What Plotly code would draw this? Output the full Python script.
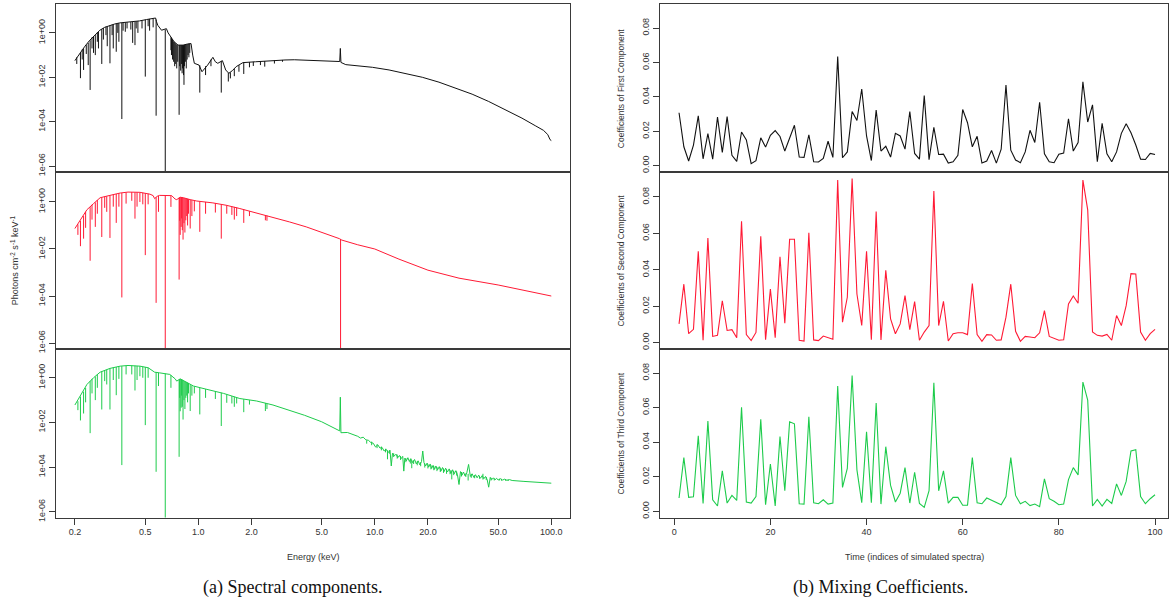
import numpy as np
import plotly.graph_objects as go

# ---------------- Spectral components (log10 of photons cm^-2 s^-1 keV^-1) ----------------
black_E = [0.200, 0.213, 0.228, 0.243, 0.260, 0.277, 0.295, 0.315, 0.336, 0.359, 0.383, 0.408, 0.436,
           0.465, 0.508, 0.545, 0.573, 0.580, 0.590, 0.619, 0.640, 0.660, 0.675, 0.700, 0.730, 0.768,
           0.820, 0.870, 0.910, 0.930, 0.950, 1.010, 1.050, 1.130, 1.210, 1.250, 1.290, 1.370, 1.430,
           1.490, 1.560, 1.640, 1.790, 2.110, 2.520, 3.100, 3.500, 4.500, 6.150, 6.330, 6.380, 6.430,
           6.850, 7.820, 9.700, 12.05, 15.00, 18.60, 23.10, 28.60, 35.60, 44.20, 54.80, 68.20, 81.10,
           90.30, 95.50, 98.40, 100.0]
black_log = [-1.25, -0.93, -0.60, -0.33, -0.10, 0.12, 0.25, 0.34, 0.40, 0.45, 0.47, 0.49, 0.51,
             0.54, 0.60, 0.64, 0.67, 0.50, 0.34, 0.12, 0.15, 0.19, 0.00, -0.20, -0.40, -0.55,
             -0.55, -0.50, -0.48, -1.00, -1.37, -1.45, -1.75, -1.45, -1.10, -1.30, -1.37, -1.25, -1.67,
             -1.82, -1.70, -1.52, -1.34, -1.30, -1.25, -1.22, -1.21, -1.24, -1.28, -1.29, -0.70, -1.33,
             -1.43, -1.48, -1.55, -1.67, -1.82, -2.00, -2.22, -2.48, -2.76, -3.09, -3.46, -3.84, -4.18,
             -4.39, -4.58, -4.81, -4.85]
black_line_E = [0.205, 0.215, 0.220, 0.224, 0.232, 0.238, 0.244, 0.250, 0.255, 0.261, 0.268, 0.272,
                0.284, 0.290, 0.300, 0.305, 0.316, 0.325, 0.330, 0.343, 0.350, 0.355, 0.369, 0.375,
                0.386, 0.395, 0.415, 0.425, 0.438, 0.445, 0.455, 0.480, 0.501, 0.520, 0.530, 0.555,
                0.577, 0.650, 0.700, 0.705, 0.715, 0.725, 0.735, 0.745, 0.755, 0.765, 0.779, 0.785,
                0.795, 0.805, 0.810, 0.815, 0.825, 0.830, 0.835, 0.845, 0.855, 0.865, 0.875, 0.885,
                0.895, 1.02, 1.10, 1.18, 1.35, 1.48, 1.52, 1.60, 1.70, 1.81, 1.95, 2.05, 2.25, 2.38,
                2.70, 3.00]
black_line_hi = [-1.10, -0.88, -0.75, -0.70, -0.55, -0.45, -0.33, -0.20, -0.15, -0.10, 0.02, 0.05,
                 0.17, 0.22, 0.28, 0.29, 0.34, 0.37, 0.38, 0.41, 0.43, 0.44, 0.45, 0.46,
                 0.47, 0.48, 0.49, 0.50, 0.51, 0.52, 0.53, 0.56, 0.59, 0.62, 0.63, 0.65,
                 0.60, 0.15, -0.20, -0.22, -0.30, -0.38, -0.42, -0.47, -0.52, -0.55, -0.55, -0.55,
                 -0.55, -0.55, -0.55, -0.55, -0.55, -0.55, -0.54, -0.53, -0.52, -0.51, -0.50, -0.49,
                 -0.49, -1.46, -1.50, -1.20, -1.27, -1.80, -1.78, -1.62, -1.45, -1.34, -1.32, -1.30,
                 -1.28, -1.27, -1.24, -1.22]
black_line_lo = [-1.40, -2.04, -1.20, -1.67, -0.95, -1.45, -2.57, -0.70, -0.90, -1.00, -0.40, -0.70,
                 -1.40, -0.30, -0.10, -0.60, -1.37, -0.10, -0.70, -0.85, 0.00, -0.40, -3.88, 0.10,
                 0.05, 0.20, 0.15, -0.45, -0.55, 0.20, 0.00, 0.20, -1.97, 0.30, 0.10, 0.25,
                 -3.73, -9.00, -0.78, -1.00, -1.20, -1.30, -1.50, -1.40, -1.60, -1.30, -3.69, -1.50,
                 -1.70, -1.40, -1.82, -1.60, -1.90, -2.34, -1.50, -1.30, -1.60, -1.20, -1.00, -1.10,
                 -0.90, -2.69, -1.90, -1.50, -2.69, -2.19, -2.05, -1.95, -1.75, -1.85, -1.55, -1.49,
                 -1.45, -1.52, -1.38, -1.30]

red_E = [0.200, 0.215, 0.234, 0.255, 0.278, 0.316, 0.361, 0.400, 0.467, 0.533, 0.555, 0.566, 0.585,
         0.604, 0.707, 0.740, 0.755, 0.790, 0.823, 0.900, 0.980, 1.21, 1.44, 1.72, 2.13, 2.65, 3.29,
         4.09, 5.08, 6.30, 6.50, 8.00, 10.0, 13.7, 20.0, 30.0, 50.0, 75.0, 100.0]
red_log = [-1.13, -0.78, -0.33, -0.07, 0.18, 0.28, 0.38, 0.42, 0.41, 0.33, 0.27, 0.14, 0.24,
           0.28, 0.27, 0.12, 0.10, 0.20, 0.18, 0.10, 0.04, -0.04, -0.14, -0.28, -0.47, -0.64, -0.85,
           -1.06, -1.30, -1.56, -1.62, -1.82, -2.00, -2.43, -2.90, -3.24, -3.53, -3.79, -4.00]
red_line_E = [0.208, 0.215, 0.224, 0.230, 0.244, 0.250, 0.261, 0.268, 0.284, 0.295, 0.303, 0.316,
              0.330, 0.343, 0.355, 0.369, 0.390, 0.420, 0.438, 0.450, 0.467, 0.485, 0.501, 0.520,
              0.577, 0.595, 0.650, 0.700, 0.779, 0.785, 0.790, 0.800, 0.805, 0.812, 0.820, 0.830,
              0.840, 0.850, 0.860, 0.870, 0.880, 0.900, 0.920, 0.950, 1.02, 1.10, 1.25, 1.35, 1.45,
              1.55, 1.60, 1.65, 1.81, 1.95, 2.40, 2.45, 6.40]
red_line_hi = [-0.95, -0.80, -0.60, -0.42, -0.22, -0.12, -0.02, 0.08, 0.19, 0.23, 0.24, 0.27,
               0.31, 0.34, 0.37, 0.38, 0.40, 0.42, 0.41, 0.41, 0.40, 0.39, 0.37, 0.35,
               0.20, 0.26, 0.27, 0.26, 0.18, 0.19, 0.20, 0.19, 0.19, 0.19, 0.18, 0.17,
               0.16, 0.15, 0.14, 0.13, 0.12, 0.10, 0.08, 0.06, 0.02, 0.00, -0.05, -0.10, -0.14,
               -0.19, -0.21, -0.23, -0.31, -0.39, -0.56, -0.58, -1.58]
red_line_lo = [-1.40, -1.88, -1.56, -1.10, -2.50, -0.75, -1.06, -0.50, -1.49, -0.25, -0.42, -1.53,
               -0.20, -0.89, -0.20, -4.06, -0.07, 0.05, -0.71, -0.20, 0.00, -0.10, -2.26, -0.10,
               -4.29, -0.42, -9.00, -0.21, -3.30, -0.80, -1.40, -1.06, -0.70, -1.20, -1.60, -0.90,
               -1.30, -0.78, -0.60, -1.00, -0.50, -1.13, -0.60, -0.40, -1.27, -0.50, -0.45, -1.56, -0.50,
               -0.55, -0.75, -0.60, -0.89, -0.60, -0.78, -0.80, -9.00]

green_E = [0.200, 0.215, 0.234, 0.255, 0.278, 0.316, 0.361, 0.400, 0.467, 0.520, 0.555, 0.566, 0.604,
           0.690, 0.740, 0.755, 0.790, 0.823, 0.940, 1.12, 1.39, 1.72, 2.14, 2.65, 3.29, 4.00, 5.00,
           6.20, 6.33, 6.38, 6.43,
           7.0, 7.5, 8.0, 8.3, 8.6, 8.9, 9.2, 9.5, 9.8, 10.1, 10.4, 10.7, 11.0, 11.3, 11.6, 11.9,
           12.2, 12.4, 12.6, 12.9, 13.2, 13.5, 13.8, 14.1, 14.4, 14.6, 14.8, 15.1, 15.4, 15.7, 16.0,
           16.4, 16.8, 17.2, 17.6, 18.0, 18.4, 18.7, 19.0, 19.4, 19.8, 20.2, 20.6, 21.0, 21.4, 21.8,
           22.2, 22.7, 23.2, 23.7, 24.2, 24.7, 25.2, 25.8, 26.4, 27.0, 27.6, 28.2, 28.8, 29.4, 30.0,
           30.6, 31.2, 31.8, 32.5, 33.2, 34.0, 34.8, 35.6, 36.4, 37.2, 38.0, 38.8, 39.7, 40.6, 41.5,
           42.4, 43.3, 44.2, 45.1, 46.0, 47.0, 48.0, 49.0, 50.0, 51.5, 53.0, 54.5, 56.0, 58.0, 60.0,
           70.0, 80.0, 90.0, 100.0]
green_log = [-1.22, -0.82, -0.30, 0.00, 0.25, 0.42, 0.52, 0.55, 0.52, 0.45, 0.30, 0.25, 0.22,
             0.15, -0.05, -0.15, -0.05, -0.12, -0.37, -0.52, -0.70, -0.93, -1.04, -1.22, -1.45, -1.68, -1.97,
             -2.36, -2.38, -0.87, -2.46,
             -2.45, -2.52, -2.62, -2.70, -2.66, -2.78, -2.80, -2.90, -2.93, -3.10, -3.00, -3.15, -3.12,
             -3.28, -3.20, -3.35, -3.25, -3.95, -3.38, -3.50, -3.42, -3.58, -3.48, -3.62, -3.52, -4.18,
             -3.60, -3.72, -3.58, -3.75, -3.62, -3.80, -3.66, -3.86, -3.72, -3.90, -3.75, -3.28, -3.80,
             -3.95, -3.82, -4.00, -3.86, -4.06, -3.92, -4.10, -3.95, -4.12, -3.98, -4.18, -4.02, -4.20,
             -4.05, -4.22, -4.08, -4.28, -4.12, -4.30, -4.16, -4.34, -4.78, -4.20, -4.36, -4.22, -4.40,
             -4.26, -3.88, -4.42, -4.30, -4.46, -4.34, -4.48, -4.36, -4.50, -4.38, -4.52, -4.42, -4.55,
             -4.90, -4.46, -4.56, -4.48, -4.57, -4.50, -4.58, -4.52, -4.58, -4.54, -4.59, -4.56, -4.60,
             -4.64, -4.67, -4.70, -4.72]
green_line_E = [0.208, 0.215, 0.224, 0.230, 0.244, 0.250, 0.261, 0.268, 0.284, 0.295, 0.303, 0.316,
                0.330, 0.343, 0.355, 0.369, 0.390, 0.420, 0.438, 0.450, 0.467, 0.485, 0.501, 0.520,
                0.577, 0.595, 0.650, 0.700, 0.779, 0.785, 0.790, 0.800, 0.805, 0.812, 0.820, 0.830,
                0.840, 0.850, 0.860, 0.870, 0.880, 0.900, 0.920, 0.950, 1.02, 1.10, 1.25, 1.35, 1.45,
                1.55, 1.60, 1.65, 1.81, 1.95, 2.40, 2.45,
                9.0, 9.6, 10.3, 10.9, 11.5, 11.8, 12.1, 12.8, 13.4, 14.0, 15.0, 15.9, 16.2, 16.6, 17.4,
                18.2, 19.2, 20.0, 20.8, 21.6, 22.5, 23.5, 24.5, 25.5, 26.7, 27.3, 28.0, 29.1, 31.0, 32.8,
                33.8, 35.2, 36.8, 39.2, 41.0, 42.8, 45.6, 47.5, 50.8, 52.2, 55.2, 57.0]
green_line_hi = [-1.05, -0.84, -0.62, -0.45, -0.15, -0.05, 0.05, 0.15, 0.28, 0.33, 0.36, 0.42,
                 0.46, 0.48, 0.50, 0.52, 0.54, 0.55, 0.54, 0.53, 0.52, 0.50, 0.48, 0.45,
                 0.24, 0.22, 0.19, 0.12, -0.08, -0.06, -0.05, -0.07, -0.07, -0.09, -0.12, -0.14,
                 -0.16, -0.18, -0.20, -0.22, -0.24, -0.30, -0.34, -0.38, -0.45, -0.51, -0.60, -0.67, -0.75,
                 -0.82, -0.85, -0.88, -0.96, -1.00, -1.13, -1.16,
                 -2.80, -2.86, -2.98, -3.08, -3.18, -3.25, -3.24, -3.38, -3.44, -3.50, -3.60, -3.66, -3.70,
                 -3.70, -3.74, -3.78, -3.84, -3.88, -3.92, -3.96, -4.00, -4.02, -4.06, -4.10, -4.14, -4.15,
                 -4.18, -4.20, -4.22, -4.28, -4.30, -4.32, -4.36, -4.40, -4.30, -4.44, -4.48, -4.50, -4.52,
                 -4.53, -4.55, -4.56]
green_line_lo = [-1.45, -1.91, -1.60, -1.10, -2.48, -0.70, -1.00, -0.45, -1.42, -0.15, -0.30, -1.42,
                 -0.10, -0.78, -0.05, -3.91, 0.15, 0.15, -0.57, -0.10, 0.07, 0.00, -2.12, 0.00,
                 -4.21, -0.37, -9.00, -0.45, -3.54, -0.90, -1.50, -1.34, -0.80, -1.30, -1.87, -1.00,
                 -1.40, -0.90, -0.80, -1.10, -0.70, -1.49, -0.80, -0.70, -1.64, -0.90, -0.95, -2.16, -1.12,
                 -1.15, -1.30, -1.15, -1.54, -1.20, -1.49, -1.40,
                 -2.95, -3.02, -3.15, -3.25, -3.34, -3.65, -3.40, -3.55, -3.62, -3.68, -3.78, -3.84, -4.05,
                 -3.86, -3.92, -3.96, -4.02, -4.06, -4.10, -4.14, -4.18, -4.22, -4.26, -4.30, -4.32, -4.55,
                 -4.36, -4.38, -4.42, -4.44, -4.60, -4.48, -4.50, -4.52, -4.56, -4.58, -4.60, -4.60, -4.60,
                 -4.61, -4.62, -4.62]

energy_tick_vals = [0.2, 0.5, 1.0, 2.0, 5.0, 10.0, 20.0, 50.0, 100.0]
energy_tick_text = ["0.2", "0.5", "1.0", "2.0", "5.0", "10.0", "20.0", "50.0", "100.0"]
flux_tick_vals = [1e-6, 1e-4, 1e-2, 1.0]
flux_tick_text = ["1e-06", "1e-04", "1e-02", "1e+00"]

# ---------------- Mixing coefficients ----------------
time_index = list(range(1, 101))
coef_first = [0.0308, 0.011, 0.0027, 0.012, 0.029, 0.004, 0.0187, 0.0038, 0.0283, 0.0077,
              0.0285, 0.006, 0.0025, 0.0196, 0.015, 0.0012, 0.0029, 0.0162, 0.0108, 0.0177,
              0.0204, 0.017, 0.0085, 0.0158, 0.0235, 0.005, 0.0048, 0.018, 0.0023, 0.0021,
              0.0042, 0.0142, 0.0048, 0.0635, 0.0046, 0.008, 0.0315, 0.0263, 0.0446, 0.0173,
              0.003, 0.0323, 0.0085, 0.0113, 0.005, 0.0188, 0.0173, 0.0096, 0.0315, 0.0071,
              0.0038, 0.0408, 0.0035, 0.0223, 0.0065, 0.0067, 0.0015, 0.0023, 0.006, 0.0327,
              0.025, 0.011, 0.0171, 0.0015, 0.0027, 0.0088, 0.0015, 0.0096, 0.0469, 0.009,
              0.0033, 0.0017, 0.008, 0.0206, 0.0135, 0.0369, 0.0069, 0.0023, 0.0017, 0.0067,
              0.0073, 0.0273, 0.0085, 0.0135, 0.0488, 0.0254, 0.0354, 0.0023, 0.0246, 0.0069,
              0.0023, 0.008, 0.0188, 0.0244, 0.0192, 0.012, 0.0038, 0.0036, 0.0071, 0.0065]
coef_second = [0.0103, 0.0321, 0.0049, 0.0073, 0.0502, 0.0013, 0.0575, 0.0034, 0.004, 0.023,
               0.0067, 0.0071, 0.0027, 0.0666, 0.0044, 0.0011, 0.0056, 0.0584, 0.0016, 0.0294,
               0.0027, 0.0472, 0.0107, 0.0568, 0.0568, 0.0013, 0.0009, 0.0604, 0.0015, 0.0011,
               0.0036, 0.0027, 0.0018, 0.0893, 0.0112, 0.0249, 0.0902, 0.0267, 0.0094, 0.0502,
               0.0016, 0.072, 0.0015, 0.0397, 0.013, 0.0049, 0.0103, 0.0258, 0.0071, 0.0225,
               0.0013, 0.0058, 0.0094, 0.0833, 0.0094, 0.0227, 0.0009, 0.0049, 0.0054, 0.0054,
               0.0044, 0.0325, 0.0044, 0.0007, 0.0044, 0.0042, 0.0013, 0.0015, 0.014, 0.0321,
               0.0062, 0.0007, 0.0034, 0.0031, 0.0027, 0.0054, 0.0176, 0.0034, 0.0022, 0.0013,
               0.0016, 0.0212, 0.0256, 0.0216, 0.0893, 0.0729, 0.0058, 0.004, 0.0036, 0.0045,
               0.0013, 0.0149, 0.0094, 0.0203, 0.0379, 0.0377, 0.0058, 0.0013, 0.0049, 0.0073]
coef_third = [0.0077, 0.0311, 0.0081, 0.0084, 0.0437, 0.0046, 0.0522, 0.0067, 0.0031, 0.0234,
              0.0048, 0.0092, 0.0063, 0.0602, 0.0054, 0.0048, 0.0086, 0.0533, 0.0038, 0.0274,
              0.0031, 0.0433, 0.0119, 0.0518, 0.0506, 0.0044, 0.0042, 0.0547, 0.005, 0.0044,
              0.0067, 0.0042, 0.0048, 0.0725, 0.0138, 0.0249, 0.0786, 0.024, 0.005, 0.046,
              0.005, 0.0627, 0.0042, 0.0374, 0.015, 0.0054, 0.0105, 0.0253, 0.0048, 0.0226,
              0.0046, 0.0023, 0.0119, 0.0744, 0.0119, 0.0234, 0.0048, 0.0081, 0.0081, 0.0035,
              0.0036, 0.0311, 0.005, 0.0044, 0.0077, 0.0065, 0.0052, 0.0038, 0.0086, 0.0311,
              0.0092, 0.0044, 0.0058, 0.0033, 0.0042, 0.0027, 0.0188, 0.0073, 0.0058, 0.0038,
              0.0042, 0.0184, 0.0253, 0.0211, 0.0748, 0.0643, 0.0031, 0.0069, 0.0031, 0.0069,
              0.0046, 0.0159, 0.0092, 0.0173, 0.0349, 0.0357, 0.0086, 0.0044, 0.0073, 0.0096]
coef_tick_vals = [0.0, 0.02, 0.04, 0.06, 0.08]
coef_tick_text = ["0.00", "0.02", "0.04", "0.06", "0.08"]
time_tick_vals = [0, 20, 40, 60, 80, 100]
coef_titles = ["Coefficients of First Component", "Coefficients of Second Component",
               "Coefficients of Third Component"]

# ---------------- Figure ----------------
W, H = 1170, 607
BLACK, RED, GREEN = "#111111", "#FF1A35", "#1DCB4B"
FRAME = "#3a3a3a"
TXT = "#333333"
FONT = "Liberation Sans"

def px_x(p):
    return p / W

def px_y(p):
    return 1 - p / H

rows_px = [(4.5, 173.0), (173.0, 351.5), (351.5, 521.0)]
left_dom = [px_x(56), px_x(570)]
right_dom = [px_x(660), px_x(1168)]


def segments(E, hi, lo):
    xs, ys = [], []
    for e, h, l in zip(E, hi, lo):
        xs += [e, e, None]
        ys += [10.0 ** h, 10.0 ** l, None]
    return xs, ys


fig = go.Figure()
spectra = [(black_E, black_log, black_line_E, black_line_hi, black_line_lo, BLACK),
           (red_E, red_log, red_line_E, red_line_hi, red_line_lo, RED),
           (green_E, green_log, green_line_E, green_line_hi, green_line_lo, GREEN)]
for k, (E, lg, lE, lh, ll, col) in enumerate(spectra):
    ax = "" if k == 0 else str(k + 1)
    sx, sy = segments(lE, lh, ll)
    fig.add_trace(go.Scatter(x=sx, y=sy, mode="lines", line=dict(color=col, width=1),
                             xaxis="x" + ax, yaxis="y" + ax, hoverinfo="skip", connectgaps=False))
    fig.add_trace(go.Scatter(x=E, y=np.power(10.0, np.array(lg)), mode="lines",
                             line=dict(color=col, width=1), xaxis="x" + ax, yaxis="y" + ax,
                             hoverinfo="skip"))

for k, (vals, col) in enumerate([(coef_first, BLACK), (coef_second, RED), (coef_third, GREEN)]):
    ax = str(k + 4)
    fig.add_trace(go.Scatter(x=time_index, y=vals, mode="lines", line=dict(color=col, width=1.1),
                             xaxis="x" + ax, yaxis="y" + ax, hoverinfo="skip"))

layout = dict(width=W, height=H, margin=dict(l=0, r=0, t=0, b=0), paper_bgcolor="white",
              plot_bgcolor="white", showlegend=False, font=dict(family=FONT, size=9, color=TXT))

for k in range(6):
    top_px, bot_px = rows_px[k % 3]
    is_left = k < 3
    is_bottom = (k % 3) == 2
    xname = "xaxis" if k == 0 else "xaxis%d" % (k + 1)
    yname = "yaxis" if k == 0 else "yaxis%d" % (k + 1)
    anchor_y = "y" if k == 0 else "y%d" % (k + 1)
    anchor_x = "x" if k == 0 else "x%d" % (k + 1)
    xa = dict(domain=left_dom if is_left else right_dom, anchor=anchor_y, showgrid=False,
              zeroline=False, showline=True, mirror=True, linecolor=FRAME, linewidth=1,
              ticks="outside" if is_bottom else "", ticklen=6, tickcolor=FRAME,
              showticklabels=is_bottom, tickfont=dict(family=FONT, size=9, color=TXT))
    ya = dict(domain=[px_y(bot_px), px_y(top_px)], anchor=anchor_x, showgrid=False,
              zeroline=False, showline=True, mirror=True, linecolor=FRAME, linewidth=1,
              ticks="outside", ticklen=6, tickcolor=FRAME, tickangle=-90,
              tickfont=dict(family=FONT, size=9, color=TXT))
    if is_left:
        xa.update(type="log", range=[-0.806, 2.106], tickvals=energy_tick_vals,
                  ticktext=energy_tick_text)
        ya.update(type="log", range=[-6.26, 1.28], tickvals=flux_tick_vals,
                  ticktext=flux_tick_text)
    else:
        xa.update(range=[-2.96, 102.7], tickvals=time_tick_vals)
        ya.update(range=[-0.0036, 0.0938], tickvals=coef_tick_vals, ticktext=coef_tick_text)
    layout[xname] = xa
    layout[yname] = ya

def note(x, y, text, size=9, angle=0, family=FONT, color=TXT):
    return dict(x=px_x(x), y=px_y(y), xref="paper", yref="paper", text=text, showarrow=False,
                xanchor="center", yanchor="middle", textangle=angle,
                font=dict(family=family, size=size, color=color))

annotations = [
    note(313, 561, "Energy (keV)"),
    note(914, 561, "Time (indices of simulated spectra)"),
    note(15, 262, "Photons cm<sup>-2</sup> s<sup>-1</sup> keV<sup>-1</sup>", angle=-90),
    note(292, 591, "(a) Spectral components.", size=18, family="Liberation Serif", color="#111111"),
    note(880, 591, "(b) Mixing Coefficients.", size=18, family="Liberation Serif", color="#111111"),
]
for k, t in enumerate(coef_titles):
    top_px, bot_px = rows_px[k]
    annotations.append(note(621, (top_px + bot_px) / 2, t, size=8.5, angle=-90))
layout["annotations"] = annotations

fig.update_layout(**layout)
fig.write_html("out.html", config={"displayModeBar": False},
               post_script="document.body.style.margin='0';")
